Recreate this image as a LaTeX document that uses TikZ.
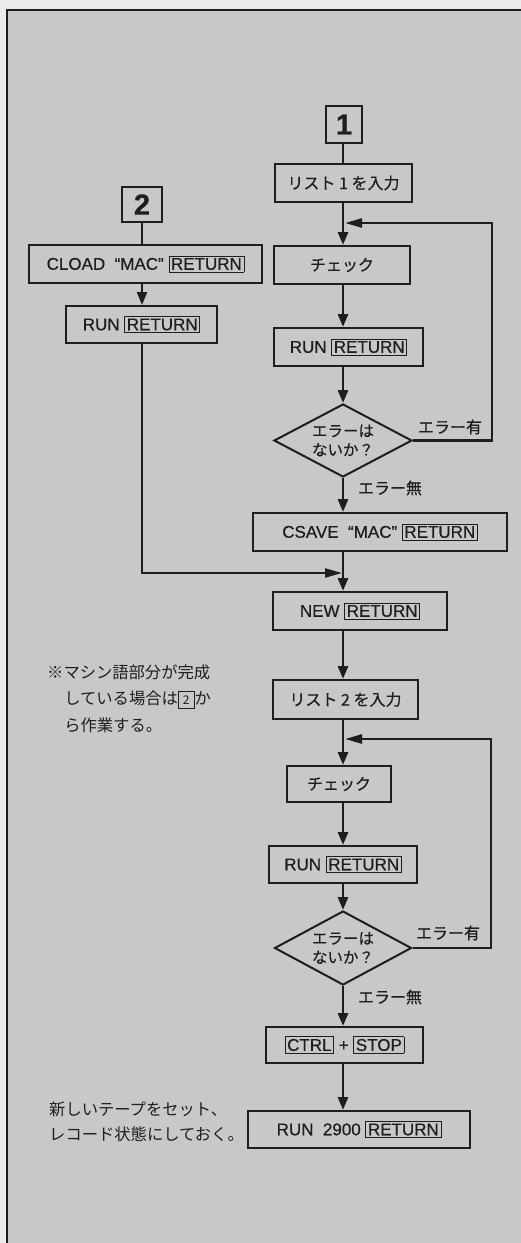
\documentclass[tikz,border=0pt]{standalone}
\usepackage{fontspec}
\setmainfont[FakeBold=0.6]{Liberation Sans}
\newfontfamily\jp[FakeBold=0.5]{Noto Sans CJK JP}
\newfontfamily\jpnote{Noto Sans CJK JP}
\usetikzlibrary{shapes.geometric,arrows.meta}
\definecolor{bg}{RGB}{200,200,200}
\definecolor{paper}{RGB}{236,236,236}
\definecolor{ink}{RGB}{30,30,30}
\newcommand\keyb[1]{{\setlength\fboxsep{1.8pt}\setlength\fboxrule{0.7pt}\fbox{#1}}}
\newcommand\smallkey[1]{{\setlength\fboxsep{1.6pt}\setlength\fboxrule{0.8pt}\fbox{\makebox[12pt]{\rule[-1.5pt]{0pt}{12.5pt}\fontsize{12}{12}\selectfont #1}}}}
\begin{document}
\begin{tikzpicture}[x=1pt,y=-1pt,
  box/.style={draw=ink,line width=2pt,rectangle,inner sep=0pt,text=ink,font=\fontsize{17}{20}\selectfont},
  jbox/.style={box,font=\jp\fontsize{16}{19}\selectfont},
  numbox/.style={box,font=\bfseries\fontsize{29}{29}\selectfont},
  arr/.style={draw=ink,line width=2.8pt,-{Triangle[length=13pt,width=10pt]}},
  looparr/.style={draw=ink,line width=2.5pt,-{Triangle[length=17pt,width=9pt]}},
  thinarr/.style={draw=ink,line width=2.2pt,-{Triangle[length=13pt,width=10pt]}},
  ln/.style={draw=ink,line width=2.4pt},
  lbl/.style={text=ink,font=\jp\fontsize{16}{19}\selectfont,inner sep=0pt},
  note/.style={text=ink,font=\jpnote\fontsize{16.3}{26.5}\selectfont,inner sep=0pt,align=left},
  dia/.style={draw=ink,line width=2pt,diamond,inner sep=0pt}]
\useasboundingbox (0,0) rectangle (521,1243);
\fill[paper] (0,0) rectangle (521,1243);
\fill[bg] (7,10) rectangle (521,1243);
\draw[ink,line width=1.4pt] (7,1243) -- (7,10) -- (521,10);

\coordinate (spine) at (343,0);
\coordinate (r1) at (492,0);
\coordinate (r2) at (491,0);
\coordinate (loop1) at (345,223);
\coordinate (loop2) at (345,739);
\coordinate (join) at (342,573);

% right column
\node[numbox,minimum width=36,minimum height=37] (n1) at (344,124.5) {1};
\node[jbox,minimum width=137,minimum height=38] (list1) at (343.5,183) {リスト 1 を入力};
\node[jbox,minimum width=136,minimum height=38] (chk1) at (342,265) {チェック};
\node[box,minimum width=149,minimum height=38] (run1) at (348.5,347) {RUN \keyb{RETURN}};
\node[dia,minimum width=138,minimum height=73] (dia1) at (343,440.5) {};
\node[lbl,align=center,font=\jp\fontsize{15.5}{19}\selectfont] (dia1t) at (dia1.center) {エラーは\\ないか？};
\node[lbl] (err1) at (450,427) {エラー有};
\node[lbl] (ok1) at (390,488) {エラー無};
\node[box,minimum width=254,minimum height=38] (csave) at (380,532) {CSAVE\ \ “MAC”\ \keyb{RETURN}};
\node[box,minimum width=174,minimum height=38] (new) at (360,611) {NEW \keyb{RETURN}};
\node[jbox,minimum width=145,minimum height=39] (list2) at (345.5,699.5) {リスト 2 を入力};
\node[jbox,minimum width=104,minimum height=36] (chk2) at (339,784) {チェック};
\node[box,minimum width=148,minimum height=37] (run2) at (343,864.5) {RUN \keyb{RETURN}};
\node[dia,minimum width=137,minimum height=74] (dia2) at (343,948) {};
\node[lbl,align=center,font=\jp\fontsize{15.5}{19}\selectfont] (dia2t) at (dia2.center) {エラーは\\ないか？};
\node[lbl] (err2) at (448,933) {エラー有};
\node[lbl] (ok2) at (390,997) {エラー無};
\node[box,minimum width=157,minimum height=36] (ctrl) at (344.5,1045) {\keyb{CTRL} + \keyb{STOP}};
\node[box,minimum width=222,minimum height=37] (run2900) at (359,1129.5) {RUN\ \ 2900 \keyb{RETURN}};

% left column
\node[numbox,minimum width=40,minimum height=35] (n2) at (142,204.5) {2};
\node[box,minimum width=233,minimum height=38] (cload) at (145.5,264) {CLOAD\ \ “MAC”\ \keyb{RETURN}};
\node[box,minimum width=151,minimum height=37] (runL) at (141.5,324.5) {RUN \keyb{RETURN}};

% notes
\node[note,anchor=north west] (note1) at (47,664) {※マシン語部分が完成\\\hspace*{1.05em}している場合は\smallkey{2}か\\\hspace*{1.05em}ら作業する。};
\node[note,anchor=north west,font=\jpnote\fontsize{16.3}{25}\selectfont] (note2) at (49,1102) {新しいテープをセット、\\レコード状態にしておく。};

% connectors
\draw[ln] (n1.south -| spine) -- (list1.north -| spine);
\draw[arr] (list1.south -| spine) -- (chk1.north -| spine);
\draw[looparr] (dia1.east) -- (dia1.east -| r1) -- (loop1 -| r1) -- (loop1);
\draw[arr] (chk1.south -| spine) -- (run1.north -| spine);
\draw[arr] (run1.south -| spine) -- (dia1.north);
\draw[arr] (dia1.south) -- (csave.north -| spine);
\draw[arr] (csave.south -| spine) -- (new.north -| spine);
\draw[ln] (n2.south) -- (cload.north -| n2.south);
\draw[thinarr] (cload.south -| n2.south) -- (runL.north -| n2.south);
\draw[looparr,line width=2.2pt] (runL.south -| n2.south) -- (join -| n2.south) -- (join);
\draw[arr] (new.south -| spine) -- (list2.north -| spine);
\draw[arr] (list2.south -| spine) -- (chk2.north -| spine);
\draw[looparr] (dia2.east) -- (dia2.east -| r2) -- (loop2 -| r2) -- (loop2);
\draw[arr] (chk2.south -| spine) -- (run2.north -| spine);
\draw[arr] (run2.south -| spine) -- (dia2.north);
\draw[arr] (dia2.south) -- (ctrl.north -| spine);
\draw[arr] (ctrl.south -| spine) -- (run2900.north -| spine);
\end{tikzpicture}
\end{document}
